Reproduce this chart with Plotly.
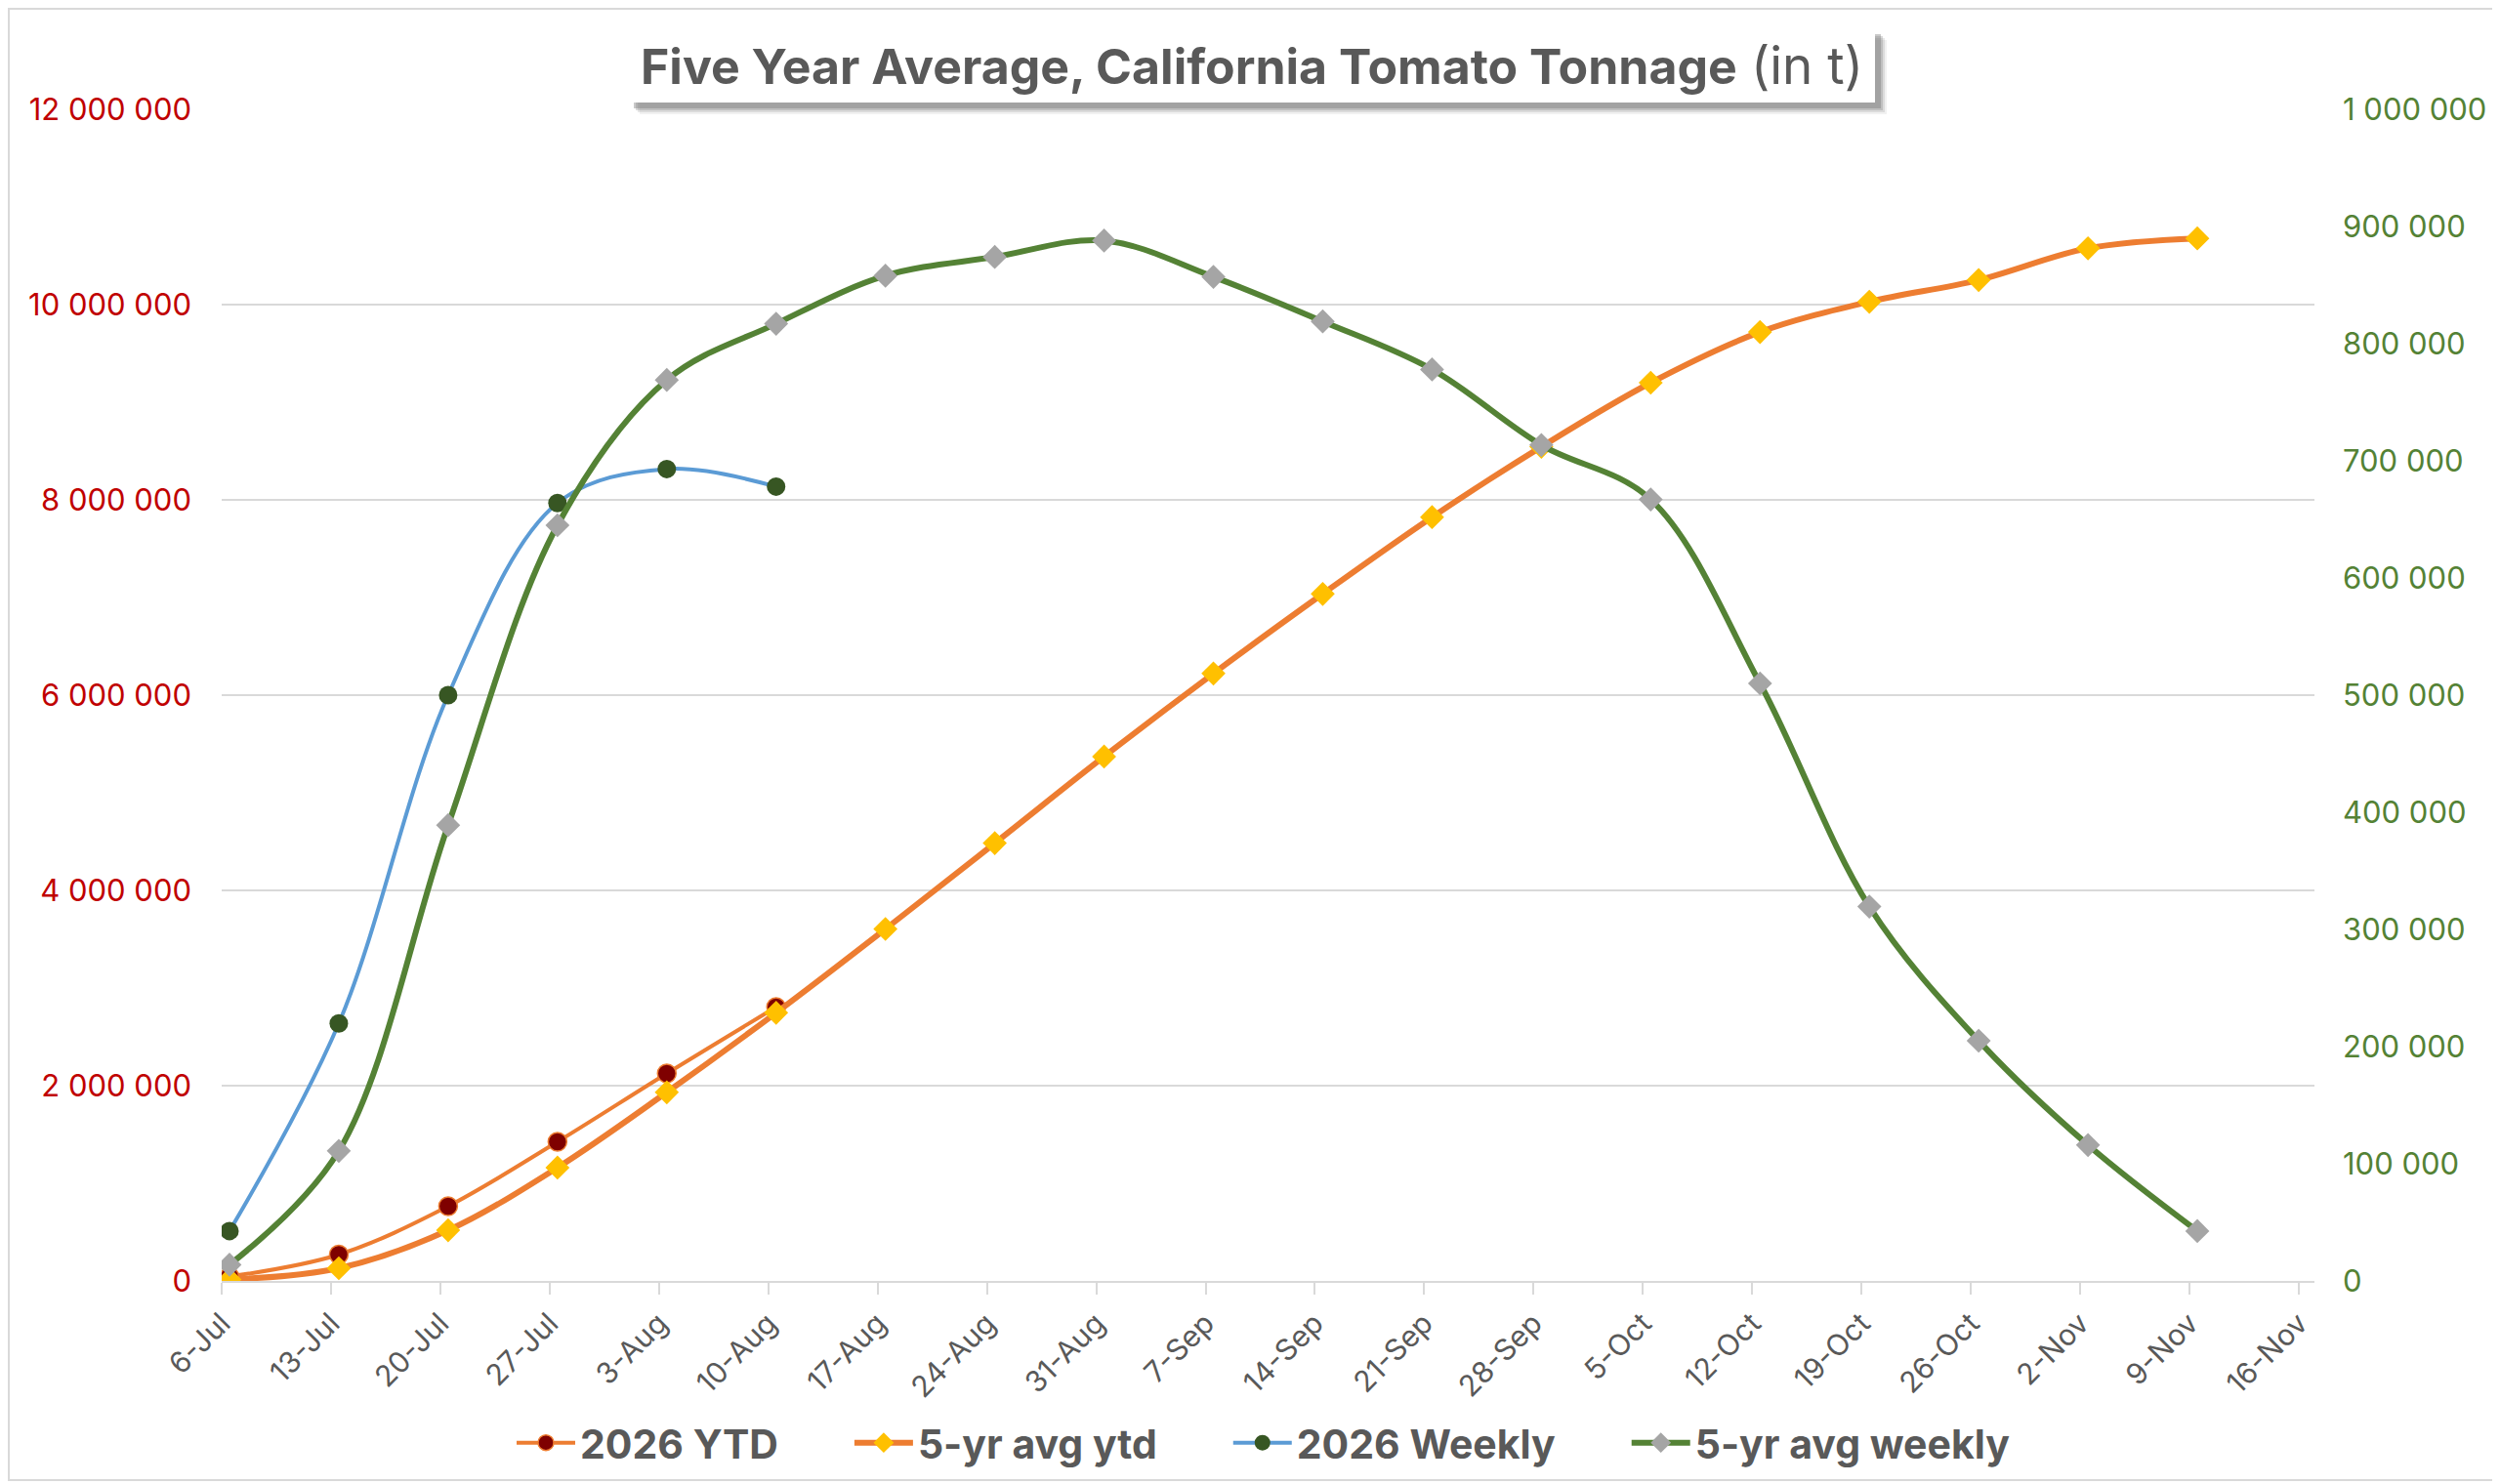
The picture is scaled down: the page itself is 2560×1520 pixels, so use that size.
"""
Five year average vs 2026 California tomato tonnage
Dual-axis smoothed line chart (cumulative on left, weekly on right)
"""

import pandas as pd
import plotly.graph_objects as go

# Week starting dates (2026 season)
weeks = [
    '2026-07-06', '2026-07-13', '2026-07-20', '2026-07-27',
    '2026-08-03', '2026-08-10', '2026-08-17', '2026-08-24', '2026-08-31',
    '2026-09-07', '2026-09-14', '2026-09-21', '2026-09-28',
    '2026-10-05', '2026-10-12', '2026-10-19', '2026-10-26',
    '2026-11-02', '2026-11-09',
]

# Cumulative tonnage (left axis)
ytd_2026 = [45000, 270000, 765000, 1425000, 2125000, 2805000]
avg_ytd = [15000, 130000, 519000, 1161000, 1932000, 2747000, 3605000,
           4484000, 5371000, 6222000, 7037000, 7823000, 8544000, 9200000,
           9719000, 10029000, 10252000, 10577000, 10678000]

# Weekly tonnage (right axis)
weekly_2026 = [42600, 219800, 500000, 664000, 693000, 678000]
avg_weekly = [13800, 111000, 389000, 645000, 769000, 817000, 858000,
              874000, 888000, 857000, 819000, 778000, 713500, 667000,
              510000, 319500, 205000, 116000, 42600]

# Axis tick labels
x_ticks = ['2026-07-06', '2026-07-13', '2026-07-20', '2026-07-27', '2026-08-03',
           '2026-08-10', '2026-08-17', '2026-08-24', '2026-08-31', '2026-09-07',
           '2026-09-14', '2026-09-21', '2026-09-28', '2026-10-05', '2026-10-12',
           '2026-10-19', '2026-10-26', '2026-11-02', '2026-11-09', '2026-11-16']
x_labels = ['6-Jul', '13-Jul', '20-Jul', '27-Jul', '3-Aug', '10-Aug', '17-Aug',
            '24-Aug', '31-Aug', '7-Sep', '14-Sep', '21-Sep', '28-Sep', '5-Oct',
            '12-Oct', '19-Oct', '26-Oct', '2-Nov', '9-Nov', '16-Nov']

series_names = ['2026 YTD', '5-yr avg ytd', '2026 Weekly', '5-yr avg weekly']

FONT = 'Inter, Roboto, sans-serif'
GREY_TXT = '#595959'
GRID = '#D9D9D9'

# page has an 8px body margin, so the figure is laid out in page pixels minus 8
OFF = 8
W, H = 2560 - OFF, 1520 - OFF
L, R, T, B = 227 - OFF, 190, 112 - OFF, 208
PW, PH = W - L - R, H - T - B


def px_x(px):
    """page pixel -> paper x"""
    return (px - OFF - L) / PW


def px_y(py):
    """page pixel (from top) -> paper y"""
    return (H - B - (py - OFF)) / PH


# Excel date axis centres each point in its day
x_pts = pd.to_datetime(weeks) + pd.Timedelta(hours=12)

# legend entries get some trailing room like the original
pad = '&nbsp;' * 7

fig = go.Figure()

fig.add_trace(go.Scatter(
    x=x_pts[:len(ytd_2026)], y=ytd_2026, name=series_names[0] + pad,
    mode='lines+markers', line=dict(color='#ED7D31', width=4, shape='spline', smoothing=1),
    marker=dict(symbol='circle', size=19, color='#7F0000', line=dict(color='#ED7D31', width=1.5)),
    yaxis='y'
))
fig.add_trace(go.Scatter(
    x=x_pts, y=avg_ytd, name=series_names[1] + pad,
    mode='lines+markers', line=dict(color='#ED7D31', width=6, shape='spline', smoothing=1),
    marker=dict(symbol='diamond', size=19, color='#FFC000', line=dict(width=0)),
    yaxis='y'
))
fig.add_trace(go.Scatter(
    x=x_pts[:len(weekly_2026)], y=weekly_2026, name=series_names[2] + pad,
    mode='lines+markers', line=dict(color='#5B9BD5', width=4, shape='spline', smoothing=1),
    marker=dict(symbol='circle', size=19, color='#375623', line=dict(width=0)),
    yaxis='y2'
))
fig.add_trace(go.Scatter(
    x=x_pts, y=avg_weekly, name=series_names[3],
    mode='lines+markers', line=dict(color='#548235', width=6, shape='spline', smoothing=1),
    marker=dict(symbol='diamond', size=19, color='#A5A5A5', line=dict(width=0)),
    yaxis='y2'
))

# Title box with soft drop shadow
box_x0, box_x1, box_y0, box_y1 = 643, 1920, 29, 105
shapes = []
for off, op in [(12, 0.10), (10, 0.18), (8, 0.28), (6, 0.40)]:
    shapes.append(dict(
        type='rect', xref='paper', yref='paper', layer='above',
        x0=px_x(box_x0 + off), x1=px_x(box_x1 + off),
        y0=px_y(box_y1 + off), y1=px_y(box_y0 + off),
        fillcolor=f'rgba(120,120,120,{op})', line=dict(width=0)
    ))
shapes.append(dict(
    type='rect', xref='paper', yref='paper', layer='above',
    x0=px_x(box_x0), x1=px_x(box_x1), y0=px_y(box_y1), y1=px_y(box_y0),
    fillcolor='white', line=dict(width=0)
))
# Chart outer border
shapes.append(dict(
    type='rect', xref='paper', yref='paper', layer='below',
    x0=px_x(OFF + 1), x1=px_x(2556), y0=px_y(1516), y1=px_y(OFF + 1),
    fillcolor='rgba(0,0,0,0)', line=dict(color=GRID, width=2)
))

fig.update_layout(
    width=W, height=H,
    margin=dict(l=L, r=R, t=T, b=B, autoexpand=False),
    paper_bgcolor='white', plot_bgcolor='white',
    font=dict(family=FONT, color=GREY_TXT, size=30),
    separators='. ',
    shapes=shapes,
    annotations=[dict(
        xref='paper', yref='paper',
        x=px_x((box_x0 + box_x1) / 2), y=px_y((box_y0 + box_y1) / 2),
        xanchor='center', yanchor='middle', showarrow=False,
        text='<b>Five Year Average, California Tomato Tonnage</b> '
             '<span style="font-size:53px">(in t)</span>',
        font=dict(family=FONT, size=50, color=GREY_TXT)
    )],
    showlegend=True,
    legend=dict(
        orientation='h', x=px_x(1294), xanchor='center', y=px_y(1478), yanchor='middle',
        font=dict(family=FONT, size=41, color=GREY_TXT, weight='bold'),
        itemsizing='trace', itemwidth=60, tracegroupgap=0,
        bgcolor='rgba(0,0,0,0)'
    ),
    xaxis=dict(
        type='date', range=['2026-07-06', '2026-11-17'],
        tickmode='array', tickvals=x_ticks, ticktext=x_labels,
        tickangle=-45, tickfont=dict(size=30, color=GREY_TXT),
        ticks='outside', ticklen=12, tickwidth=2, tickcolor=GRID,
        showline=True, linecolor=GRID, linewidth=2,
        showgrid=False, zeroline=False
    ),
    yaxis=dict(
        range=[0, 12000000], dtick=2000000, tickformat=',d',
        tickfont=dict(size=31, color='#C00000'),
        showgrid=True, gridcolor=GRID, gridwidth=2,
        zeroline=False, showline=False, ticks='',
        ticklabelstandoff=30
    ),
    yaxis2=dict(
        range=[0, 1000000], dtick=100000, tickformat=',d',
        overlaying='y', side='right',
        tickfont=dict(size=31, color='#548235'),
        showgrid=False, zeroline=False, showline=False, ticks='',
        ticklabelstandoff=28
    ),
)

fig.write_html("out.html")
